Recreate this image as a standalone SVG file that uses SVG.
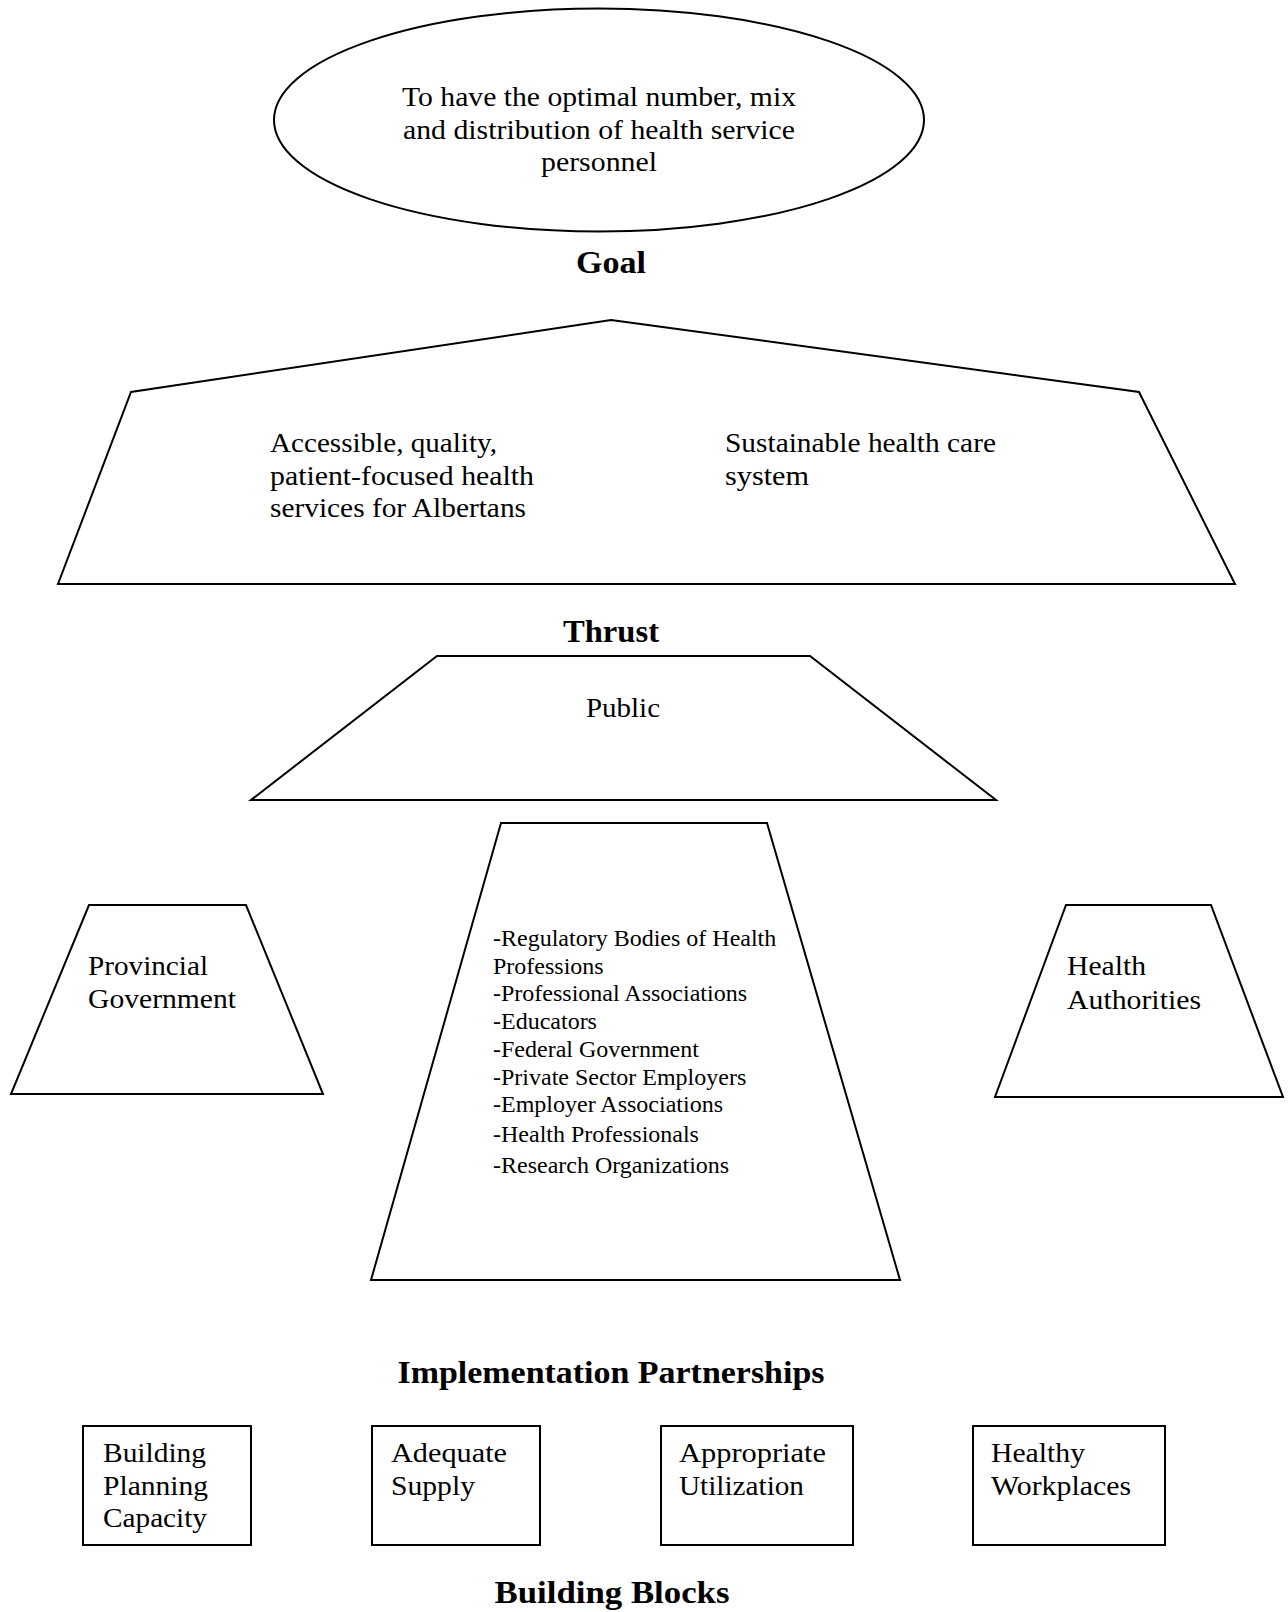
<svg xmlns="http://www.w3.org/2000/svg" width="1288" height="1612" viewBox="0 0 1288 1612">
<style>
.shape{fill:#fff;stroke:#000;stroke-width:2;stroke-linejoin:miter}
.t{font-family:"Liberation Serif","Times New Roman",serif;font-size:28px;fill:#000}
.c{text-anchor:middle}
.h{font-family:"Liberation Serif","Times New Roman",serif;font-size:32px;font-weight:bold;fill:#000;text-anchor:middle}
.l{font-family:"Liberation Serif","Times New Roman",serif;font-size:24px;fill:#000}
</style>
<rect x="0" y="0" width="1288" height="1612" fill="#fff"/>
<g id="connectors"></g>
<g id="goal">
<ellipse class="shape" cx="599" cy="120" rx="325" ry="111.5"/>
<text class="t c" x="599" y="106" textLength="394" lengthAdjust="spacingAndGlyphs">To have the optimal number, mix</text>
<text class="t c" x="599" y="139" textLength="392" lengthAdjust="spacingAndGlyphs">and distribution of health service</text>
<text class="t c" x="599" y="171" textLength="116" lengthAdjust="spacingAndGlyphs">personnel</text>
</g>
<g id="goal-label"><text class="h" x="611" y="273" textLength="70" lengthAdjust="spacingAndGlyphs">Goal</text></g>
<g id="thrust">
<path class="shape" d="M611,320 L1139,392 L1235,584 L58,584 L131,392 Z"/>
<text class="t" x="270" y="452" textLength="227" lengthAdjust="spacingAndGlyphs">Accessible, quality,</text>
<text class="t" x="270" y="485" textLength="264" lengthAdjust="spacingAndGlyphs">patient-focused health</text>
<text class="t" x="270" y="517" textLength="256" lengthAdjust="spacingAndGlyphs">services for Albertans</text>
<text class="t" x="725" y="452" textLength="271" lengthAdjust="spacingAndGlyphs">Sustainable health care</text>
<text class="t" x="725" y="485" textLength="84" lengthAdjust="spacingAndGlyphs">system</text>
</g>
<g id="thrust-label"><text class="h" x="611" y="642" textLength="96" lengthAdjust="spacingAndGlyphs">Thrust</text></g>
<g id="public">
<path class="shape" d="M437,656 L810,656 L996,800 L251,800 Z"/>
<text class="t c" x="623" y="717" textLength="74" lengthAdjust="spacingAndGlyphs">Public</text>
</g>
<g id="provincial-government">
<path class="shape" d="M89,905 L246,905 L323,1094 L11,1094 Z"/>
<text class="t" x="88" y="975" textLength="120" lengthAdjust="spacingAndGlyphs">Provincial</text>
<text class="t" x="88" y="1008" textLength="148" lengthAdjust="spacingAndGlyphs">Government</text>
</g>
<g id="partners">
<path class="shape" d="M501,823 L767,823 L900,1280 L371,1280 Z"/>
<text class="l" x="493" y="946">-Regulatory Bodies of Health</text>
<text class="l" x="493" y="974">Professions</text>
<text class="l" x="493" y="1001">-Professional Associations</text>
<text class="l" x="493" y="1029">-Educators</text>
<text class="l" x="493" y="1057">-Federal Government</text>
<text class="l" x="493" y="1085">-Private Sector Employers</text>
<text class="l" x="493" y="1112">-Employer Associations</text>
<text class="l" x="493" y="1142">-Health Professionals</text>
<text class="l" x="493" y="1173">-Research Organizations</text>
</g>
<g id="health-authorities">
<path class="shape" d="M1066,905 L1211,905 L1283,1097 L995,1097 Z"/>
<text class="t" x="1067" y="975" textLength="79" lengthAdjust="spacingAndGlyphs">Health</text>
<text class="t" x="1067" y="1009" textLength="134" lengthAdjust="spacingAndGlyphs">Authorities</text>
</g>
<g id="implementation-label"><text class="h" x="611" y="1383" textLength="427" lengthAdjust="spacingAndGlyphs">Implementation Partnerships</text></g>
<g id="building-planning-capacity">
<rect class="shape" x="83" y="1426" width="168" height="119"/>
<text class="t" x="103" y="1462" textLength="103" lengthAdjust="spacingAndGlyphs">Building</text>
<text class="t" x="103" y="1495" textLength="105" lengthAdjust="spacingAndGlyphs">Planning</text>
<text class="t" x="103" y="1527" textLength="104" lengthAdjust="spacingAndGlyphs">Capacity</text>
</g>
<g id="adequate-supply">
<rect class="shape" x="372" y="1426" width="168" height="119"/>
<text class="t" x="391" y="1462" textLength="116" lengthAdjust="spacingAndGlyphs">Adequate</text>
<text class="t" x="391" y="1495" textLength="84" lengthAdjust="spacingAndGlyphs">Supply</text>
</g>
<g id="appropriate-utilization">
<rect class="shape" x="661" y="1426" width="192" height="119"/>
<text class="t" x="679" y="1462" textLength="147" lengthAdjust="spacingAndGlyphs">Appropriate</text>
<text class="t" x="679" y="1495" textLength="125" lengthAdjust="spacingAndGlyphs">Utilization</text>
</g>
<g id="healthy-workplaces">
<rect class="shape" x="973" y="1426" width="192" height="119"/>
<text class="t" x="991" y="1462" textLength="94" lengthAdjust="spacingAndGlyphs">Healthy</text>
<text class="t" x="991" y="1495" textLength="140" lengthAdjust="spacingAndGlyphs">Workplaces</text>
</g>
<g id="building-blocks-label"><text class="h" x="612" y="1603" textLength="235" lengthAdjust="spacingAndGlyphs">Building Blocks</text></g>
</svg>
